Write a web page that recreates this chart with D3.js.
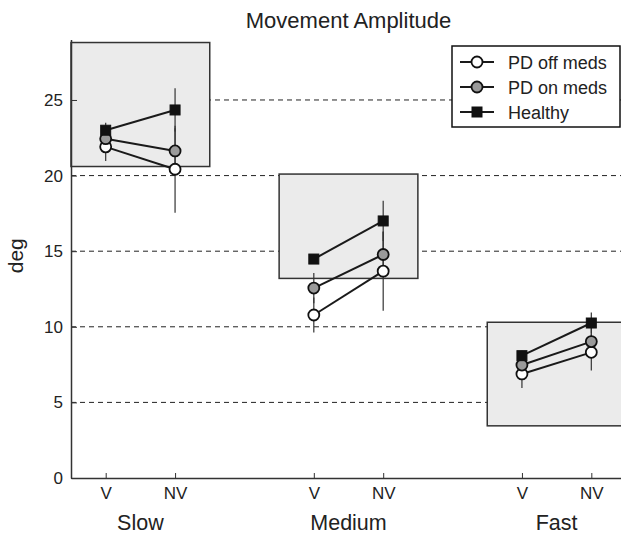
<!DOCTYPE html>
<html>
<head>
<meta charset="utf-8">
<script src="https://cdn.jsdelivr.net/npm/d3@7"></script>
<style>
  body { margin: 0; background: #fff; }
  svg { font-family: "Liberation Sans", Arial, sans-serif; }
</style>
</head>
<body>
<svg id="chart" width="621" height="534"></svg>
<script>
// conditions along x, in plot order
const conditions = ["V", "NV", "V", "NV", "V", "NV"];
const positions = [1, 2, 4, 5, 7, 8];
const speeds = ["Slow", "Medium", "Fast"];
const yTicks = [0, 5, 10, 15, 20, 25];
const gridTicks = [5, 10, 15, 20, 25];

// gray boxes per speed: [x0, x1, yLow, yHigh]
const boxes = [
  [0.5, 2.5, 20.6, 28.8],
  [3.5, 5.5, 13.2, 20.1],
  [6.5, 8.5, 3.45, 10.3]
];

const offMeds = [21.9, 20.42, 10.78, 13.68, 6.88, 8.31];
const offMedsErr = [0.93, 2.87, 1.15, 2.62, 0.92, 1.2];
const onMeds = [22.44, 21.63, 12.56, 14.78, 7.47, 9.02];
const onMedsErr = [0.8, 1.5, 1.0, 1.5, 0.8, 1.0];
const healthy = [23.0, 24.34, 14.48, 17.0, 8.09, 10.25];
const healthyErr = [0.5, 1.43, 0.3, 1.33, 0.33, 0.7];

const series = [
  { name: "PD off meds", values: offMeds, err: offMedsErr, marker: "circle", fill: "#fff" },
  { name: "PD on meds", values: onMeds, err: onMedsErr, marker: "circle", fill: "#9a9a9a" },
  { name: "Healthy", values: healthy, err: healthyErr, marker: "square", fill: "#111" }
];

const svg = d3.select("#chart");
const x = d3.scaleLinear().domain([0.5, 8.5]).range([71, 626]);
const y = d3.scaleLinear().domain([0, 29]).range([478, 39.5]);

// dashed grid
svg.append("g")
  .selectAll("line")
  .data(gridTicks)
  .enter()
  .append("line")
  .attr("x1", x(0.5)).attr("x2", 621)
  .attr("y1", d => y(d)).attr("y2", d => y(d))
  .attr("stroke", "#222").attr("stroke-width", 1)
  .attr("stroke-dasharray", "5,4");

// gray boxes
svg.append("g")
  .selectAll("rect")
  .data(boxes)
  .enter()
  .append("rect")
  .attr("x", d => x(d[0]))
  .attr("width", d => x(d[1]) - x(d[0]))
  .attr("y", d => y(d[3]))
  .attr("height", d => y(d[2]) - y(d[3]))
  .attr("fill", "#ebebeb")
  .attr("stroke", "#333").attr("stroke-width", 1.5);

// y axis
const yAxis = d3.axisLeft(y).tickValues(yTicks).tickSize(-6).tickSizeOuter(0).tickPadding(8);
const yg = svg.append("g").attr("transform", `translate(${x(0.5)},0)`).call(yAxis);
yg.select(".domain").attr("stroke", "#333").attr("stroke-width", 1.5);
yg.selectAll(".tick line").attr("stroke", "#333");
yg.selectAll(".tick text").attr("font-size", 17).attr("fill", "#222")
  .attr("font-family", "Liberation Sans, Arial, sans-serif");

// x axis
const xAxis = d3.axisBottom(x).tickValues(positions)
  .tickFormat((d, i) => conditions[i]).tickSize(-5).tickSizeOuter(0).tickPadding(9);
const xg = svg.append("g").attr("transform", `translate(0,${y(0)})`).call(xAxis);
xg.select(".domain").attr("stroke", "#333").attr("stroke-width", 1.5);
xg.selectAll(".tick line").attr("stroke", "#333");
xg.selectAll(".tick text").attr("font-size", 17).attr("fill", "#222")
  .attr("font-family", "Liberation Sans, Arial, sans-serif");

// speed labels
svg.append("g")
  .selectAll("text")
  .data(speeds)
  .enter()
  .append("text")
  .attr("x", (d, i) => x(positions[i * 2] + 0.5))
  .attr("y", 530)
  .attr("text-anchor", "middle")
  .attr("font-size", 21.5).attr("fill", "#222")
  .text(d => d);

svg.append("text")
  .attr("x", x(4.5)).attr("y", 28)
  .attr("text-anchor", "middle")
  .attr("font-size", 22).attr("fill", "#222")
  .text("Movement Amplitude");

svg.append("text")
  .attr("transform", `translate(23,${y(14.7)}) rotate(-90)`)
  .attr("text-anchor", "middle")
  .attr("font-size", 21).attr("fill", "#222")
  .text("deg");

// error bars
series.forEach(s => {
  svg.append("g")
    .selectAll("line")
    .data(s.values)
    .enter()
    .append("line")
    .attr("x1", (d, i) => x(positions[i])).attr("x2", (d, i) => x(positions[i]))
    .attr("y1", (d, i) => y(d - s.err[i])).attr("y2", (d, i) => y(d + s.err[i]))
    .attr("stroke", "#333").attr("stroke-width", 1.2);
});

// connecting lines, V to NV within each speed
const line = d3.line().x(d => x(d[0])).y(d => y(d[1]));
series.forEach(s => {
  speeds.forEach((sp, k) => {
    const pts = [0, 1].map(j => [positions[k * 2 + j], s.values[k * 2 + j]]);
    svg.append("path").attr("d", line(pts))
      .attr("fill", "none").attr("stroke", "#1a1a1a").attr("stroke-width", 2);
  });
});

function drawMarker(g, s, cx, cy) {
  if (s.marker === "square") {
    g.append("rect").attr("x", cx - 5).attr("y", cy - 5).attr("width", 10).attr("height", 10)
      .attr("fill", s.fill).attr("stroke", "#111").attr("stroke-width", 1);
  } else {
    g.append("circle").attr("cx", cx).attr("cy", cy).attr("r", 5.5)
      .attr("fill", s.fill).attr("stroke", "#111").attr("stroke-width", 1.8);
  }
}

series.forEach(s => {
  const g = svg.append("g");
  s.values.forEach((v, i) => drawMarker(g, s, x(positions[i]), y(v)));
});

// legend
const lg = svg.append("g");
lg.append("rect").attr("x", 452).attr("y", 46).attr("width", 168).attr("height", 81)
  .attr("fill", "#fff").attr("stroke", "#111").attr("stroke-width", 1.5);
series.forEach((s, i) => {
  const ly = 62 + i * 25;
  lg.append("line").attr("x1", 460).attr("x2", 494).attr("y1", ly).attr("y2", ly)
    .attr("stroke", "#1a1a1a").attr("stroke-width", 2);
  drawMarker(lg, s, 477, ly);
  lg.append("text").attr("x", 508).attr("y", ly + 6.5)
    .attr("font-size", 18).attr("fill", "#222").text(s.name);
});
</script>
</body>
</html>
